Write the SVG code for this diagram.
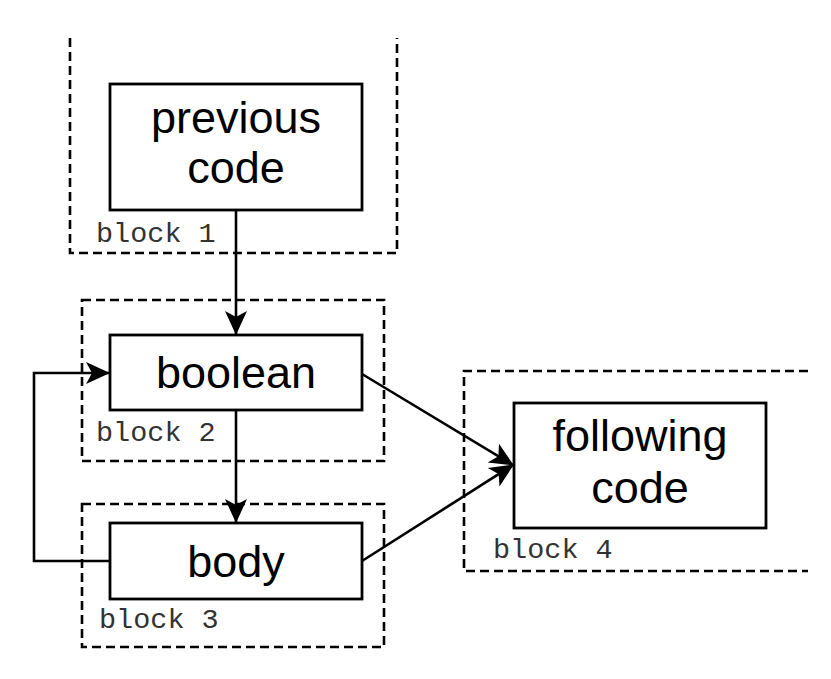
<svg xmlns="http://www.w3.org/2000/svg" width="831" height="679" viewBox="0 0 831 679">
<style>
.blk{fill:none;stroke:#000;stroke-width:2.6;stroke-dasharray:9 5}
.box{fill:#fff;stroke:#000;stroke-width:2.8}
.lbl{font-family:"Liberation Sans",Arial,sans-serif;font-size:45px;fill:#000;text-anchor:middle}
.mono{font-family:"Liberation Mono","Courier New",monospace;font-size:28.5px;fill:#333}
.edge{fill:none;stroke:#000;stroke-width:2.6}
</style>
<defs>
<marker id="arr" viewBox="0 0 24 24" refX="23" refY="12" markerWidth="24" markerHeight="24" markerUnits="userSpaceOnUse" orient="auto">
<path d="M0 1 L24 12 L0 23 L6 12 Z" fill="#000"/>
</marker>
</defs>
<rect width="831" height="679" fill="#fff"/>
<g id="block1"><path class="blk" d="M70 38 V253 H397 V38"/><text class="mono" x="96" y="242">block 1</text></g>
<g id="block2"><rect class="blk" x="82" y="300" width="302" height="161"/><text class="mono" x="96" y="441">block 2</text></g>
<g id="block3"><rect class="blk" x="82" y="504" width="302" height="143"/><text class="mono" x="99" y="628">block 3</text></g>
<g id="block4"><path class="blk" d="M808 371 H464 V571 H808"/><text class="mono" x="493" y="558">block 4</text></g>
<g id="edges">
<line class="edge" x1="236" y1="210" x2="236" y2="334" marker-end="url(#arr)"/>
<line class="edge" x1="236" y1="410" x2="236" y2="522" marker-end="url(#arr)"/>
<polyline class="edge" points="110,561 34,561 34,373 109,373" marker-end="url(#arr)"/>
<line class="edge" x1="362" y1="374" x2="513" y2="465" marker-end="url(#arr)"/>
<line class="edge" x1="362" y1="561" x2="513" y2="465" marker-end="url(#arr)"/>
</g>
<g id="previous"><rect class="box" x="110" y="84" width="252" height="126"/><text class="lbl" x="236" y="133">previous</text><text class="lbl" x="236" y="183">code</text></g>
<g id="boolean"><rect class="box" x="110" y="335" width="252" height="75"/><text class="lbl" x="236" y="388">boolean</text></g>
<g id="body"><rect class="box" x="110" y="523" width="252" height="76"/><text class="lbl" x="236" y="577">body</text></g>
<g id="following"><rect class="box" x="514" y="403" width="252" height="125"/><text class="lbl" x="640" y="451">following</text><text class="lbl" x="640" y="503">code</text></g>
</svg>
